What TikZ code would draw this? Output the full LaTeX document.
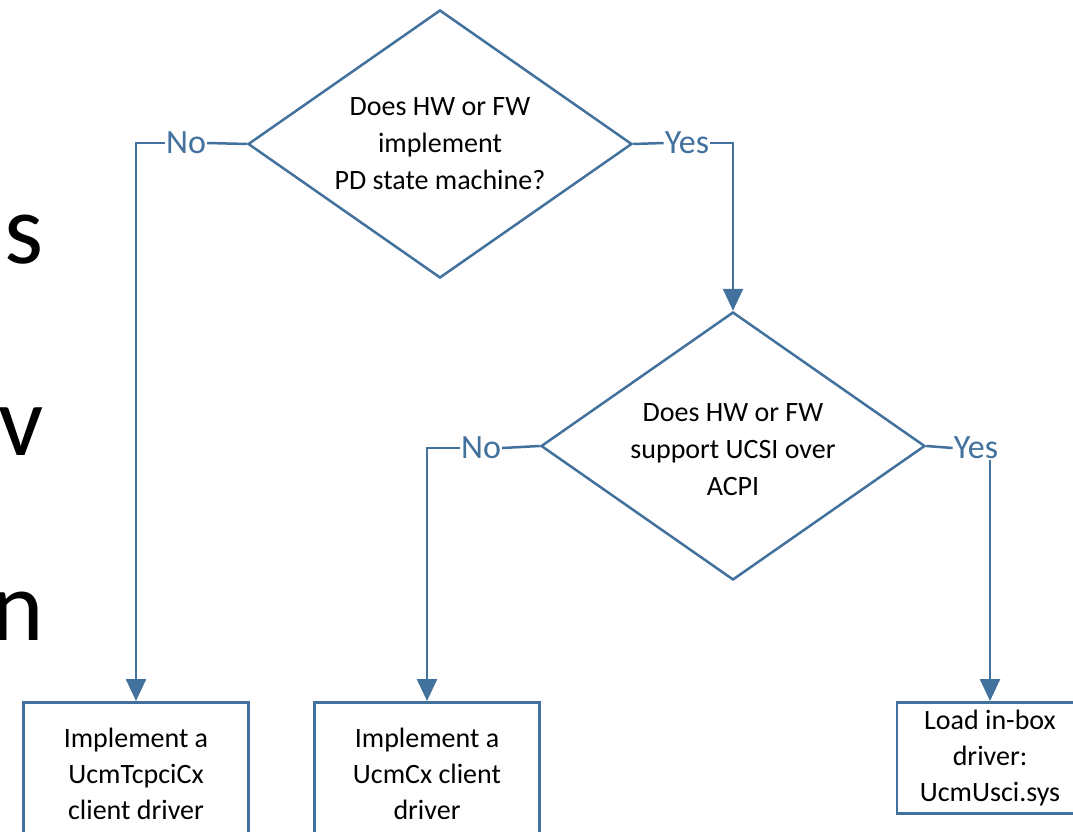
\documentclass[tikz,border=0pt]{standalone}
\usepackage{fontspec}
\setmainfont{Carlito}
\usetikzlibrary{arrows.meta,shapes.geometric}
\definecolor{flow}{HTML}{41719C}
\begin{document}
\begin{tikzpicture}[x=1pt,y=-1pt,
  conn/.style={draw=flow,line width=2.5pt},
  arr/.style={conn,-{Triangle[width=20pt,length=22pt]}},
  decision/.style={diamond,draw=flow,line width=2.5pt,inner sep=0pt,aspect=1.43,
    minimum width=384pt,minimum height=268pt},
  question/.style={align=center,inner sep=0pt,font=\fontsize{28}{37}\selectfont},
  outcome/.style={rectangle,draw=flow,line width=2.5pt,align=center,inner sep=0pt,
    anchor=north,font=\fontsize{28}{36}\selectfont},
  answer/.style={text=flow,inner sep=1pt,font=\fontsize{34}{34}\selectfont},
  margintext/.style={anchor=base east,inner sep=0pt,font=\fontsize{100}{100}\selectfont}]

\useasboundingbox (0,0) rectangle (1073,832);
\clip (0,0) rectangle (1073,832);

% large letters cut by the left edge
\node[margintext] (m1) at (44,263) {s};
\node[margintext] (m2) at (44,455) {v};
\node[margintext] (m3) at (44,640) {n};

% decisions
\node[decision] (d1) at (440,144) {};
\node[question] (q1) at (d1.center) {Does HW or FW\\implement\\PD state machine?};
\node[decision] (d2) at (733,446) {};
\node[question] (q2) at ([yshift=-4pt]d2.center) {Does HW or FW\\support UCSI over\\ACPI};

% outcomes
\node[outcome,minimum width=225pt,minimum height=144pt] (b1) at (136,701)
  {Implement a\\UcmTcpciCx\\client driver};
\node[outcome,minimum width=225pt,minimum height=144pt] (b2) at (427,701)
  {Implement a\\UcmCx client\\driver};
\node[outcome,minimum width=186pt,minimum height=111pt] (b3) at (990,701)
  {Load in-box\\driver:\\UcmUsci.sys};

% branch labels
\node[answer] (n1) at (186,143) {No};
\node[answer] (y1) at (687,143) {Yes};
\node[answer] (n2) at (481,448) {No};
\node[answer] (y2) at (976,448) {Yes};

% connectors
\draw[conn] (d1.west) -- (n1.east);
\draw[arr] (n1.west) -| (b1.north);
\draw[conn] (d1.east) -- (y1.west);
\draw[arr] (y1.east) -| (d2.north);
\draw[conn] (d2.west) -- (n2.east);
\draw[arr] (n2.west) -| (b2.north);
\draw[conn] (d2.east) -- (y2.west);
\draw[arr] (y2.south -| b3.north) -- (b3.north);
\end{tikzpicture}
\end{document}
